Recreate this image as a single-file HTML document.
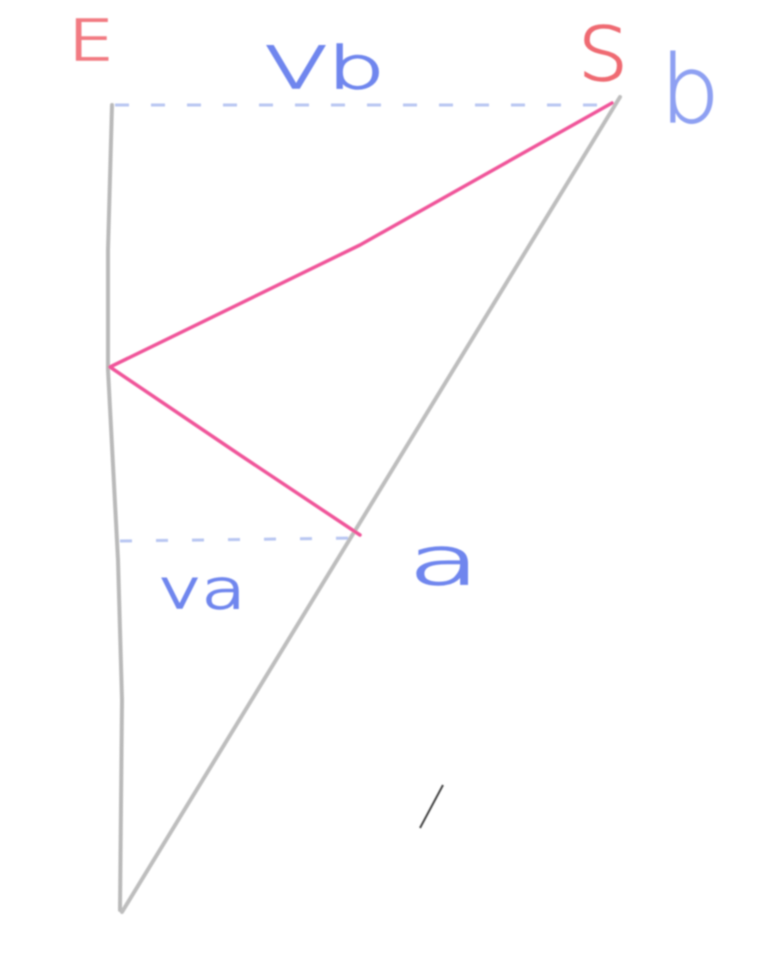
<!DOCTYPE html>
<html><head><meta charset="utf-8"><style>
html,body{margin:0;padding:0;background:#fff;width:774px;height:955px;overflow:hidden}
svg{display:block}
text{font-family:"DejaVu Sans","Liberation Sans",sans-serif;font-weight:300}
</style></head><body>
<svg width="774" height="955" viewBox="0 0 774 955">
<defs><filter id="pencil"><feGaussianBlur stdDeviation="0.9"/></filter></defs>
<g filter="url(#pencil)">
<polyline id="vline" fill="none" stroke="#b9b9b9" stroke-width="4" stroke-linecap="round"/>
<polyline id="diag" fill="none" stroke="#bdbdbd" stroke-width="4" stroke-linecap="round"/>
<polyline id="pink" fill="none" stroke="#f0559a" stroke-width="3.5" stroke-linejoin="round" stroke-linecap="round"/>
<polyline id="dashTop" fill="none" stroke="#b8c6f2" stroke-width="3" stroke-dasharray="14 22"/>
<polyline id="dashBot" fill="none" stroke="#b8c6f2" stroke-width="3" stroke-dasharray="12 24"/>
<line x1="443" y1="785" x2="420" y2="828" stroke="#444" stroke-width="2"/>
</g>
<g filter="url(#pencil)">
<text x="68" y="60" font-size="56" fill="#f27a82" stroke="#f27a82" stroke-width="1.5" textLength="46" lengthAdjust="spacingAndGlyphs">E</text>
<text x="265" y="88" font-size="58" fill="#6f86ee" stroke="#6f86ee" stroke-width="1.5" textLength="120" lengthAdjust="spacingAndGlyphs">Vb</text>
<text x="578" y="80" font-size="74" fill="#ef6a72" stroke="#ef6a72" stroke-width="1.5" textLength="50" lengthAdjust="spacingAndGlyphs">S</text>
<text x="660" y="122" font-size="94" fill="#8ea0f2" stroke="#8ea0f2" stroke-width="1" textLength="60" lengthAdjust="spacingAndGlyphs">b</text>
<text x="408" y="584" font-size="66" fill="#6f86ee" stroke="#6f86ee" stroke-width="1.5" textLength="72" lengthAdjust="spacingAndGlyphs">a</text>
<text x="158" y="608" font-size="54" fill="#6f86ee" stroke="#6f86ee" stroke-width="1.5" textLength="88" lengthAdjust="spacingAndGlyphs">va</text>
</g>
<script>
const vlineX=[112,108,108,118,122,120];
const vlineY=[105,250,370,560,700,910];
const diagX=[620,122];
const diagY=[97,912];
const pinkX=[612,360,110,240,360];
const pinkY=[103,245,367,455,535];
const dashTopX=[115,610];const dashTopY=[105,105];
const dashBotX=[120,360];const dashBotY=[541,538];
function pts(xs,ys){return xs.map((x,i)=>x+','+ys[i]).join(' ');}
document.getElementById('vline').setAttribute('points',pts(vlineX,vlineY));
document.getElementById('diag').setAttribute('points',pts(diagX,diagY));
document.getElementById('pink').setAttribute('points',pts(pinkX,pinkY));
document.getElementById('dashTop').setAttribute('points',pts(dashTopX,dashTopY));
document.getElementById('dashBot').setAttribute('points',pts(dashBotX,dashBotY));
</script>
</svg>
</body></html>
